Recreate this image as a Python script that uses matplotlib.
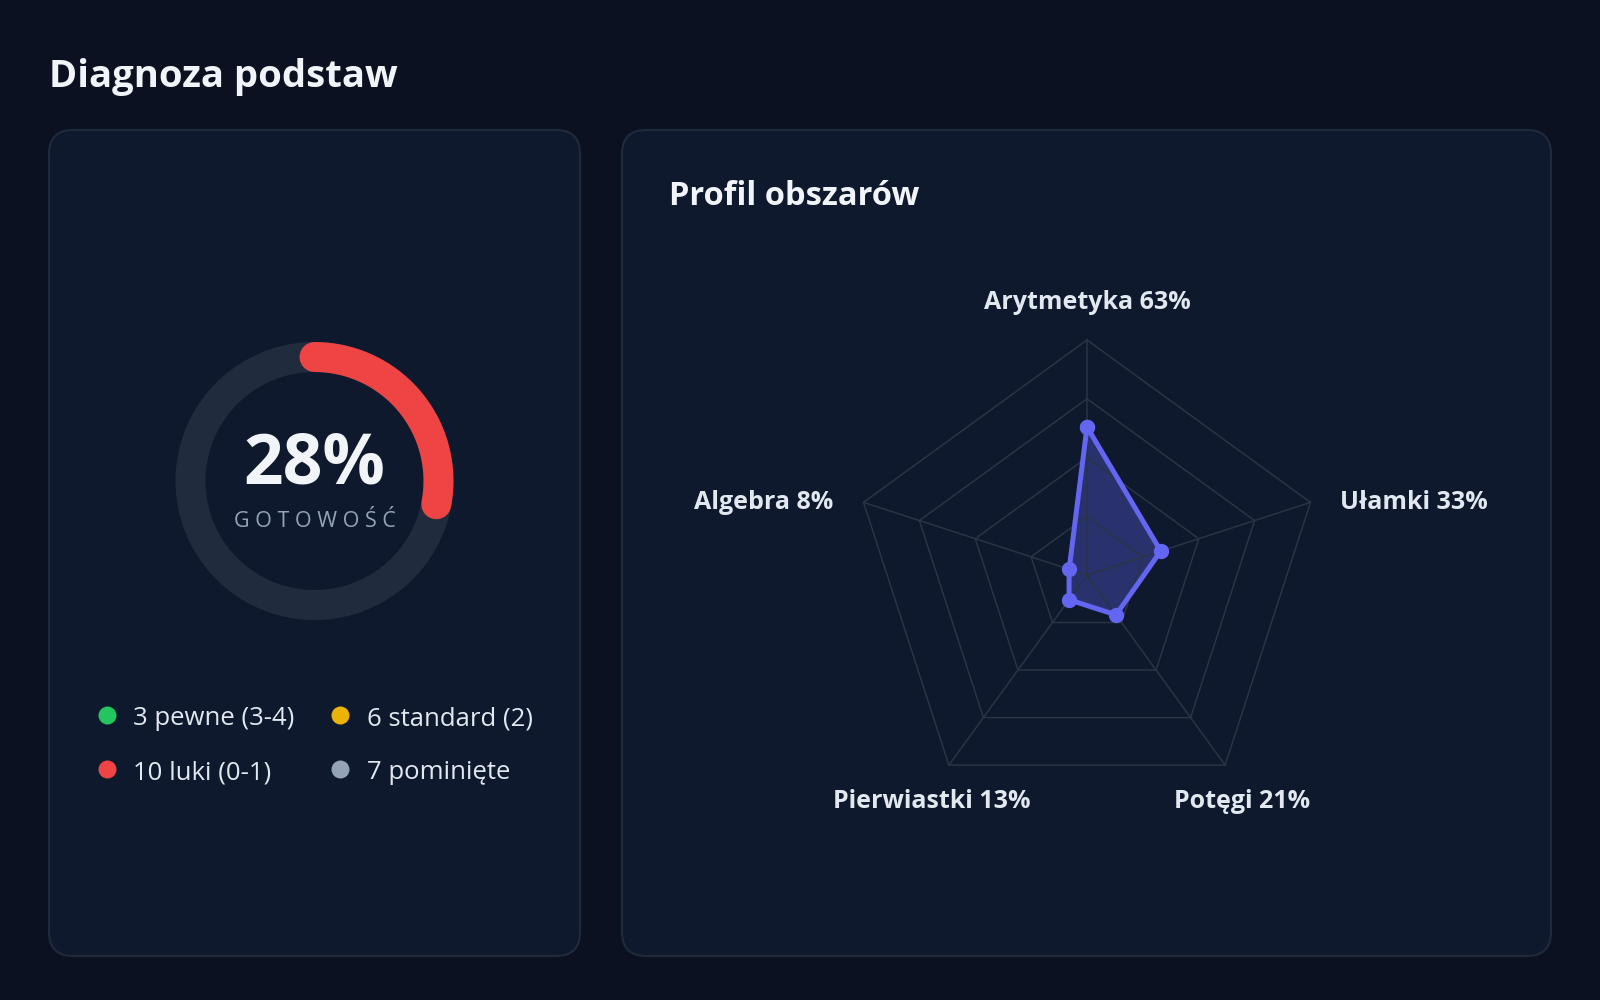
import numpy as np
import matplotlib
matplotlib.use("Agg")
import matplotlib.pyplot as plt
from matplotlib.patches import FancyBboxPatch

plt.rcParams["font.family"] = ["Open Sans", "DejaVu Sans"]

# colours
BG = "#0b1120"
CARD = "#0f192d"
BORDER = "#1f2a3c"
TRACK = "#202b3e"
GRID = "#2a3445"
RED = "#ef4444"
INDIGO = "#6366f1"
WHITE = "#f1f5f9"
LABEL = "#e2e8f0"
MUTED = "#94a3b8"

# data
readiness_pct = 28
legend_counts = [3, 6, 10, 7]
legend_names = ["pewne (3-4)", "standard (2)", "luki (0-1)", "pominięte"]
legend_colors = ["#22c55e", "#eab308", "#ef4444", "#94a3b8"]
areas = ["Arytmetyka", "Ułamki", "Potęgi", "Pierwiastki", "Algebra"]
area_pct = [63, 33, 21, 13, 8]
grid_levels = [25, 50, 75, 100]

W, H = 1600, 1000
fig = plt.figure(figsize=(16, 10), dpi=100, facecolor=BG)
bg = fig.add_axes([0, 0, 1, 1])
bg.set_xlim(0, W)
bg.set_ylim(H, 0)
bg.axis("off")


def px_axes(cx, cy, half, **kw):
    # axes box given in pixel coords (origin top-left)
    return fig.add_axes([(cx - half) / W, (H - cy - half) / H, 2 * half / W, 2 * half / H], **kw)


bg.text(49, 87, "Diagnoza podstaw", fontsize=27.5, fontweight="bold", color=WHITE, va="baseline")

for x0, w in [(49, 531), (622, 929)]:
    bg.add_patch(FancyBboxPatch((x0, 130), w, 826, boxstyle="round,pad=0,rounding_size=24",
                                fc=CARD, ec=BORDER, lw=1.5))

# --- donut ---
d = px_axes(314.5, 481, 150, projection="polar")
d.set_theta_zero_location("N")
d.set_theta_direction(-1)
d.set_ylim(0, 150)
d.axis("off")
ring_r = 124
ring_lw = 30 * 72 / 100
t_full = np.linspace(0, 2 * np.pi, 361)
d.plot(t_full, np.full_like(t_full, ring_r), color=TRACK, lw=ring_lw, solid_capstyle="butt", clip_on=False)
t_arc = np.linspace(0, readiness_pct / 100 * 2 * np.pi, 150)
d.plot(t_arc, np.full_like(t_arc, ring_r), color=RED, lw=ring_lw, solid_capstyle="round", clip_on=False)

bg.text(314.5, 483, f"{readiness_pct}%", fontsize=50, fontweight="bold", color=WHITE,
        ha="center", va="baseline")
bg.text(314.5, 527, " ".join("GOTOWOŚĆ"), fontsize=15.5, color=MUTED, ha="center", va="baseline")

# legend
dot_x = [107, 340]
text_x = [133, 367]
row_y = [715, 769]
for i, (n, name, c) in enumerate(zip(legend_counts, legend_names, legend_colors)):
    col, row = i % 2, i // 2
    bg.scatter(dot_x[col], row_y[row], s=168, color=c, lw=0)
    bg.text(text_x[col], row_y[row] + 10, f"{n} {name}", fontsize=18.5, color=LABEL, va="baseline")

# --- radar ---
bg.text(669, 205, "Profil obszarów", fontsize=23.5, fontweight="bold", color=WHITE, va="baseline")

r = px_axes(1087, 575, 235, projection="polar")
r.set_theta_zero_location("N")
r.set_theta_direction(-1)
r.set_ylim(0, 100)
r.axis("off")

angles = np.arange(len(areas)) * 2 * np.pi / len(areas)
ang_c = np.append(angles, angles[0])
val_c = np.append(area_pct, area_pct[0])

for lvl in grid_levels:
    r.plot(ang_c, [lvl] * len(ang_c), color=GRID, lw=1.1, clip_on=False)
for a in angles:
    r.plot([a, a], [0, grid_levels[-1]], color=GRID, lw=1.1, clip_on=False)

r.fill(ang_c, val_c, color=INDIGO, alpha=0.33, lw=0)
r.plot(ang_c, val_c, color=INDIGO, lw=3.6, marker="o", ms=10, clip_on=False)

for a, name, v in zip(angles, areas, area_pct):
    s, c = np.sin(a), np.cos(a)
    if abs(s) < 0.1:
        ha, off = "center", (0, 38)
    elif c < 0:
        ha, off = "center", (17 * np.sign(s), -36)
    else:
        ha, off = ("left" if s > 0 else "right"), (30 * np.sign(s), 0)
    r.annotate(f"{name} {v}%", xy=(a, grid_levels[-1]), xytext=off, textcoords="offset pixels",
               ha=ha, va="center", fontsize=18, fontweight="bold", color=LABEL)

fig.savefig("out.png", dpi=100, facecolor=BG)
